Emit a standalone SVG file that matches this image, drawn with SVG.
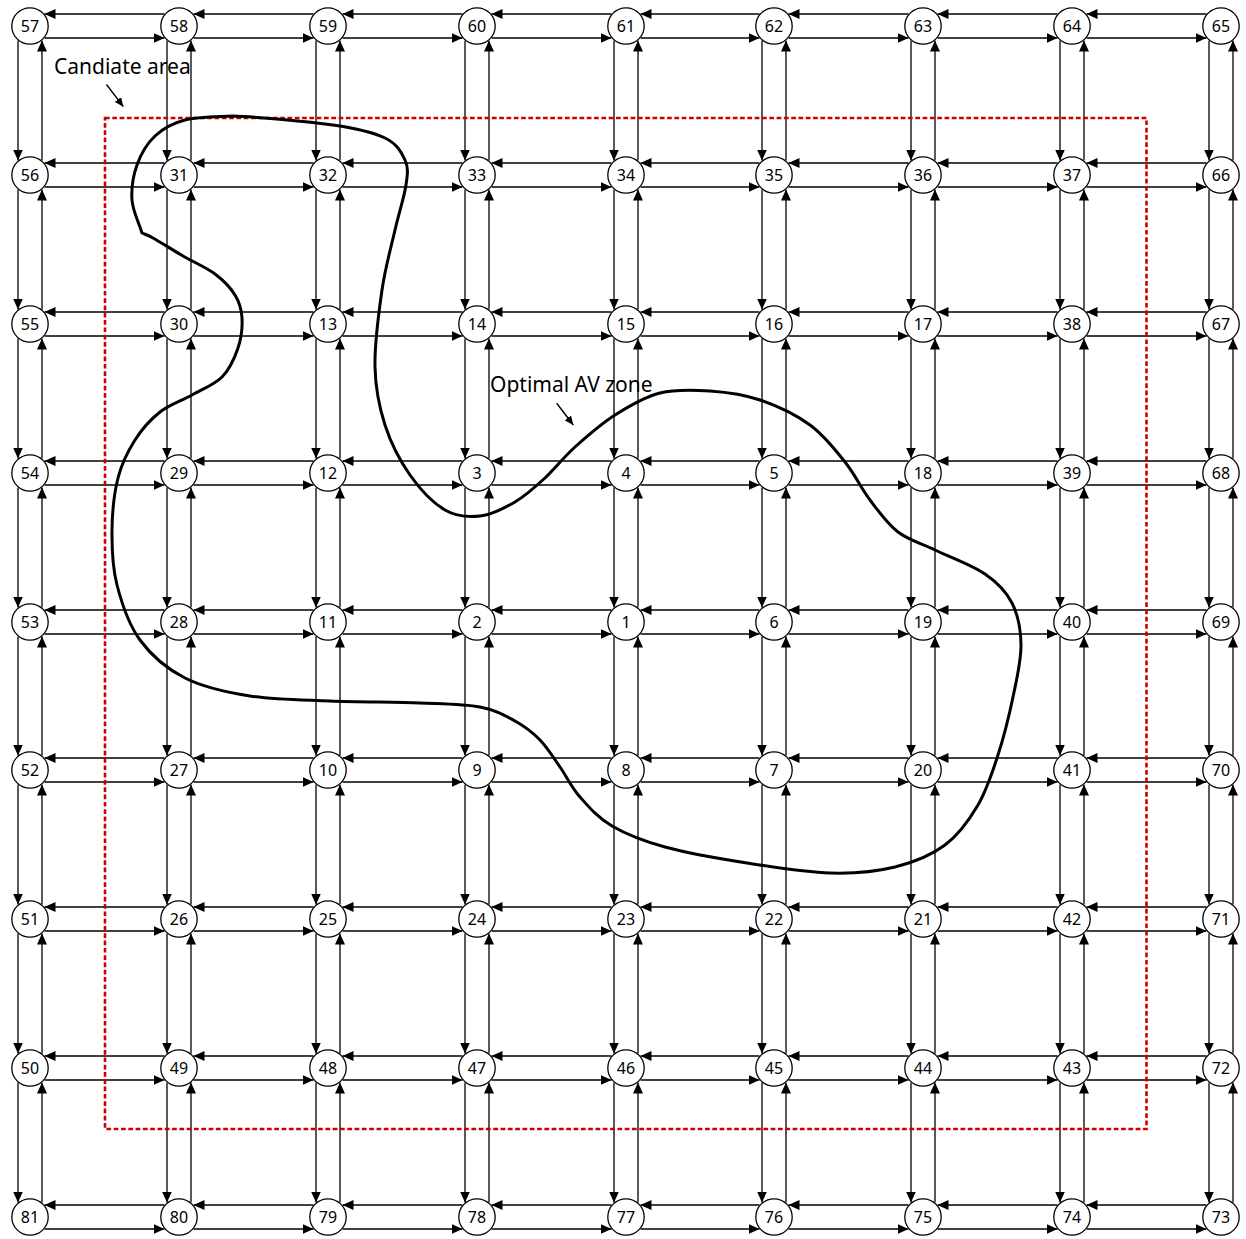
<svg xmlns="http://www.w3.org/2000/svg" width="1246" height="1239" viewBox="0 0 1246 1239">
<defs>
<marker id="a" markerUnits="userSpaceOnUse" markerWidth="11" markerHeight="10" refX="11" refY="5" orient="auto" viewBox="0 0 11 10"><path d="M0,0 L11,5 L0,10 z" fill="#000"/></marker>
<marker id="s" markerUnits="userSpaceOnUse" markerWidth="9" markerHeight="8" refX="9" refY="4" orient="auto" viewBox="0 0 9 8"><path d="M0,0 L9,4 L0,8 z" fill="#000"/></marker>
</defs>
<style>
.e path{stroke:#000;stroke-width:1.3;fill:none;marker-end:url(#a)}
.n circle{fill:#fff;stroke:#000;stroke-width:1.3}
.n text{font-family:"Noto Sans","DejaVu Sans",sans-serif;font-size:16px;text-anchor:middle;fill:#000}
.lbl{font-family:"Noto Sans","DejaVu Sans",sans-serif;font-size:21px;fill:#000}
.pt{stroke:#000;stroke-width:1.4;fill:none;marker-end:url(#s)}
</style>
<rect width="1246" height="1239" fill="#fff"/>
<g id="connectors" class="e">
<path d="M164.5 14H44.5"/><path d="M313.5 14H193.5"/><path d="M462.5 14H342.5"/><path d="M611.5 14H491.5"/><path d="M759.5 14H640.5"/><path d="M908.5 14H788.5"/><path d="M1057.5 14H937.5"/><path d="M1206.5 14H1086.5"/>
<path d="M44.5 38H164.5"/><path d="M193.5 38H313.5"/><path d="M342.5 38H462.5"/><path d="M491.5 38H611.5"/><path d="M640.5 38H759.5"/><path d="M788.5 38H908.5"/><path d="M937.5 38H1057.5"/><path d="M1086.5 38H1206.5"/>
<path d="M164.5 163H44.5"/><path d="M313.5 163H193.5"/><path d="M462.5 163H342.5"/><path d="M611.5 163H491.5"/><path d="M759.5 163H640.5"/><path d="M908.5 163H788.5"/><path d="M1057.5 163H937.5"/><path d="M1206.5 163H1086.5"/>
<path d="M44.5 187H164.5"/><path d="M193.5 187H313.5"/><path d="M342.5 187H462.5"/><path d="M491.5 187H611.5"/><path d="M640.5 187H759.5"/><path d="M788.5 187H908.5"/><path d="M937.5 187H1057.5"/><path d="M1086.5 187H1206.5"/>
<path d="M164.5 312H44.5"/><path d="M313.5 312H193.5"/><path d="M462.5 312H342.5"/><path d="M611.5 312H491.5"/><path d="M759.5 312H640.5"/><path d="M908.5 312H788.5"/><path d="M1057.5 312H937.5"/><path d="M1206.5 312H1086.5"/>
<path d="M44.5 336H164.5"/><path d="M193.5 336H313.5"/><path d="M342.5 336H462.5"/><path d="M491.5 336H611.5"/><path d="M640.5 336H759.5"/><path d="M788.5 336H908.5"/><path d="M937.5 336H1057.5"/><path d="M1086.5 336H1206.5"/>
<path d="M164.5 461H44.5"/><path d="M313.5 461H193.5"/><path d="M462.5 461H342.5"/><path d="M611.5 461H491.5"/><path d="M759.5 461H640.5"/><path d="M908.5 461H788.5"/><path d="M1057.5 461H937.5"/><path d="M1206.5 461H1086.5"/>
<path d="M44.5 485H164.5"/><path d="M193.5 485H313.5"/><path d="M342.5 485H462.5"/><path d="M491.5 485H611.5"/><path d="M640.5 485H759.5"/><path d="M788.5 485H908.5"/><path d="M937.5 485H1057.5"/><path d="M1086.5 485H1206.5"/>
<path d="M164.5 610H44.5"/><path d="M313.5 610H193.5"/><path d="M462.5 610H342.5"/><path d="M611.5 610H491.5"/><path d="M759.5 610H640.5"/><path d="M908.5 610H788.5"/><path d="M1057.5 610H937.5"/><path d="M1206.5 610H1086.5"/>
<path d="M44.5 634H164.5"/><path d="M193.5 634H313.5"/><path d="M342.5 634H462.5"/><path d="M491.5 634H611.5"/><path d="M640.5 634H759.5"/><path d="M788.5 634H908.5"/><path d="M937.5 634H1057.5"/><path d="M1086.5 634H1206.5"/>
<path d="M164.5 758H44.5"/><path d="M313.5 758H193.5"/><path d="M462.5 758H342.5"/><path d="M611.5 758H491.5"/><path d="M759.5 758H640.5"/><path d="M908.5 758H788.5"/><path d="M1057.5 758H937.5"/><path d="M1206.5 758H1086.5"/>
<path d="M44.5 782H164.5"/><path d="M193.5 782H313.5"/><path d="M342.5 782H462.5"/><path d="M491.5 782H611.5"/><path d="M640.5 782H759.5"/><path d="M788.5 782H908.5"/><path d="M937.5 782H1057.5"/><path d="M1086.5 782H1206.5"/>
<path d="M164.5 907H44.5"/><path d="M313.5 907H193.5"/><path d="M462.5 907H342.5"/><path d="M611.5 907H491.5"/><path d="M759.5 907H640.5"/><path d="M908.5 907H788.5"/><path d="M1057.5 907H937.5"/><path d="M1206.5 907H1086.5"/>
<path d="M44.5 931H164.5"/><path d="M193.5 931H313.5"/><path d="M342.5 931H462.5"/><path d="M491.5 931H611.5"/><path d="M640.5 931H759.5"/><path d="M788.5 931H908.5"/><path d="M937.5 931H1057.5"/><path d="M1086.5 931H1206.5"/>
<path d="M164.5 1056H44.5"/><path d="M313.5 1056H193.5"/><path d="M462.5 1056H342.5"/><path d="M611.5 1056H491.5"/><path d="M759.5 1056H640.5"/><path d="M908.5 1056H788.5"/><path d="M1057.5 1056H937.5"/><path d="M1206.5 1056H1086.5"/>
<path d="M44.5 1080H164.5"/><path d="M193.5 1080H313.5"/><path d="M342.5 1080H462.5"/><path d="M491.5 1080H611.5"/><path d="M640.5 1080H759.5"/><path d="M788.5 1080H908.5"/><path d="M937.5 1080H1057.5"/><path d="M1086.5 1080H1206.5"/>
<path d="M164.5 1205H44.5"/><path d="M313.5 1205H193.5"/><path d="M462.5 1205H342.5"/><path d="M611.5 1205H491.5"/><path d="M759.5 1205H640.5"/><path d="M908.5 1205H788.5"/><path d="M1057.5 1205H937.5"/><path d="M1206.5 1205H1086.5"/>
<path d="M44.5 1229H164.5"/><path d="M193.5 1229H313.5"/><path d="M342.5 1229H462.5"/><path d="M491.5 1229H611.5"/><path d="M640.5 1229H759.5"/><path d="M788.5 1229H908.5"/><path d="M937.5 1229H1057.5"/><path d="M1086.5 1229H1206.5"/>
<path d="M18 40.5V160.5"/><path d="M18 189.5V309.5"/><path d="M18 338.5V458.5"/><path d="M18 487.5V607.5"/><path d="M18 636.5V755.5"/><path d="M18 784.5V904.5"/><path d="M18 933.5V1053.5"/><path d="M18 1082.5V1202.5"/>
<path d="M42 160.5V40.5"/><path d="M42 309.5V189.5"/><path d="M42 458.5V338.5"/><path d="M42 607.5V487.5"/><path d="M42 755.5V636.5"/><path d="M42 904.5V784.5"/><path d="M42 1053.5V933.5"/><path d="M42 1202.5V1082.5"/>
<path d="M167 40.5V160.5"/><path d="M167 189.5V309.5"/><path d="M167 338.5V458.5"/><path d="M167 487.5V607.5"/><path d="M167 636.5V755.5"/><path d="M167 784.5V904.5"/><path d="M167 933.5V1053.5"/><path d="M167 1082.5V1202.5"/>
<path d="M191 160.5V40.5"/><path d="M191 309.5V189.5"/><path d="M191 458.5V338.5"/><path d="M191 607.5V487.5"/><path d="M191 755.5V636.5"/><path d="M191 904.5V784.5"/><path d="M191 1053.5V933.5"/><path d="M191 1202.5V1082.5"/>
<path d="M316 40.5V160.5"/><path d="M316 189.5V309.5"/><path d="M316 338.5V458.5"/><path d="M316 487.5V607.5"/><path d="M316 636.5V755.5"/><path d="M316 784.5V904.5"/><path d="M316 933.5V1053.5"/><path d="M316 1082.5V1202.5"/>
<path d="M340 160.5V40.5"/><path d="M340 309.5V189.5"/><path d="M340 458.5V338.5"/><path d="M340 607.5V487.5"/><path d="M340 755.5V636.5"/><path d="M340 904.5V784.5"/><path d="M340 1053.5V933.5"/><path d="M340 1202.5V1082.5"/>
<path d="M465 40.5V160.5"/><path d="M465 189.5V309.5"/><path d="M465 338.5V458.5"/><path d="M465 487.5V607.5"/><path d="M465 636.5V755.5"/><path d="M465 784.5V904.5"/><path d="M465 933.5V1053.5"/><path d="M465 1082.5V1202.5"/>
<path d="M489 160.5V40.5"/><path d="M489 309.5V189.5"/><path d="M489 458.5V338.5"/><path d="M489 607.5V487.5"/><path d="M489 755.5V636.5"/><path d="M489 904.5V784.5"/><path d="M489 1053.5V933.5"/><path d="M489 1202.5V1082.5"/>
<path d="M614 40.5V160.5"/><path d="M614 189.5V309.5"/><path d="M614 338.5V458.5"/><path d="M614 487.5V607.5"/><path d="M614 636.5V755.5"/><path d="M614 784.5V904.5"/><path d="M614 933.5V1053.5"/><path d="M614 1082.5V1202.5"/>
<path d="M638 160.5V40.5"/><path d="M638 309.5V189.5"/><path d="M638 458.5V338.5"/><path d="M638 607.5V487.5"/><path d="M638 755.5V636.5"/><path d="M638 904.5V784.5"/><path d="M638 1053.5V933.5"/><path d="M638 1202.5V1082.5"/>
<path d="M762 40.5V160.5"/><path d="M762 189.5V309.5"/><path d="M762 338.5V458.5"/><path d="M762 487.5V607.5"/><path d="M762 636.5V755.5"/><path d="M762 784.5V904.5"/><path d="M762 933.5V1053.5"/><path d="M762 1082.5V1202.5"/>
<path d="M786 160.5V40.5"/><path d="M786 309.5V189.5"/><path d="M786 458.5V338.5"/><path d="M786 607.5V487.5"/><path d="M786 755.5V636.5"/><path d="M786 904.5V784.5"/><path d="M786 1053.5V933.5"/><path d="M786 1202.5V1082.5"/>
<path d="M911 40.5V160.5"/><path d="M911 189.5V309.5"/><path d="M911 338.5V458.5"/><path d="M911 487.5V607.5"/><path d="M911 636.5V755.5"/><path d="M911 784.5V904.5"/><path d="M911 933.5V1053.5"/><path d="M911 1082.5V1202.5"/>
<path d="M935 160.5V40.5"/><path d="M935 309.5V189.5"/><path d="M935 458.5V338.5"/><path d="M935 607.5V487.5"/><path d="M935 755.5V636.5"/><path d="M935 904.5V784.5"/><path d="M935 1053.5V933.5"/><path d="M935 1202.5V1082.5"/>
<path d="M1060 40.5V160.5"/><path d="M1060 189.5V309.5"/><path d="M1060 338.5V458.5"/><path d="M1060 487.5V607.5"/><path d="M1060 636.5V755.5"/><path d="M1060 784.5V904.5"/><path d="M1060 933.5V1053.5"/><path d="M1060 1082.5V1202.5"/>
<path d="M1084 160.5V40.5"/><path d="M1084 309.5V189.5"/><path d="M1084 458.5V338.5"/><path d="M1084 607.5V487.5"/><path d="M1084 755.5V636.5"/><path d="M1084 904.5V784.5"/><path d="M1084 1053.5V933.5"/><path d="M1084 1202.5V1082.5"/>
<path d="M1209 40.5V160.5"/><path d="M1209 189.5V309.5"/><path d="M1209 338.5V458.5"/><path d="M1209 487.5V607.5"/><path d="M1209 636.5V755.5"/><path d="M1209 784.5V904.5"/><path d="M1209 933.5V1053.5"/><path d="M1209 1082.5V1202.5"/>
<path d="M1233 160.5V40.5"/><path d="M1233 309.5V189.5"/><path d="M1233 458.5V338.5"/><path d="M1233 607.5V487.5"/><path d="M1233 755.5V636.5"/><path d="M1233 904.5V784.5"/><path d="M1233 1053.5V933.5"/><path d="M1233 1202.5V1082.5"/>
</g>
<g class="n">
<g id="n57"><circle cx="30" cy="26" r="18.2"/><text x="30" y="31.7">57</text></g>
<g id="n58"><circle cx="179" cy="26" r="18.2"/><text x="179" y="31.7">58</text></g>
<g id="n59"><circle cx="328" cy="26" r="18.2"/><text x="328" y="31.7">59</text></g>
<g id="n60"><circle cx="477" cy="26" r="18.2"/><text x="477" y="31.7">60</text></g>
<g id="n61"><circle cx="626" cy="26" r="18.2"/><text x="626" y="31.7">61</text></g>
<g id="n62"><circle cx="774" cy="26" r="18.2"/><text x="774" y="31.7">62</text></g>
<g id="n63"><circle cx="923" cy="26" r="18.2"/><text x="923" y="31.7">63</text></g>
<g id="n64"><circle cx="1072" cy="26" r="18.2"/><text x="1072" y="31.7">64</text></g>
<g id="n65"><circle cx="1221" cy="26" r="18.2"/><text x="1221" y="31.7">65</text></g>
<g id="n56"><circle cx="30" cy="175" r="18.2"/><text x="30" y="180.7">56</text></g>
<g id="n31"><circle cx="179" cy="175" r="18.2"/><text x="179" y="180.7">31</text></g>
<g id="n32"><circle cx="328" cy="175" r="18.2"/><text x="328" y="180.7">32</text></g>
<g id="n33"><circle cx="477" cy="175" r="18.2"/><text x="477" y="180.7">33</text></g>
<g id="n34"><circle cx="626" cy="175" r="18.2"/><text x="626" y="180.7">34</text></g>
<g id="n35"><circle cx="774" cy="175" r="18.2"/><text x="774" y="180.7">35</text></g>
<g id="n36"><circle cx="923" cy="175" r="18.2"/><text x="923" y="180.7">36</text></g>
<g id="n37"><circle cx="1072" cy="175" r="18.2"/><text x="1072" y="180.7">37</text></g>
<g id="n66"><circle cx="1221" cy="175" r="18.2"/><text x="1221" y="180.7">66</text></g>
<g id="n55"><circle cx="30" cy="324" r="18.2"/><text x="30" y="329.7">55</text></g>
<g id="n30"><circle cx="179" cy="324" r="18.2"/><text x="179" y="329.7">30</text></g>
<g id="n13"><circle cx="328" cy="324" r="18.2"/><text x="328" y="329.7">13</text></g>
<g id="n14"><circle cx="477" cy="324" r="18.2"/><text x="477" y="329.7">14</text></g>
<g id="n15"><circle cx="626" cy="324" r="18.2"/><text x="626" y="329.7">15</text></g>
<g id="n16"><circle cx="774" cy="324" r="18.2"/><text x="774" y="329.7">16</text></g>
<g id="n17"><circle cx="923" cy="324" r="18.2"/><text x="923" y="329.7">17</text></g>
<g id="n38"><circle cx="1072" cy="324" r="18.2"/><text x="1072" y="329.7">38</text></g>
<g id="n67"><circle cx="1221" cy="324" r="18.2"/><text x="1221" y="329.7">67</text></g>
<g id="n54"><circle cx="30" cy="473" r="18.2"/><text x="30" y="478.7">54</text></g>
<g id="n29"><circle cx="179" cy="473" r="18.2"/><text x="179" y="478.7">29</text></g>
<g id="n12"><circle cx="328" cy="473" r="18.2"/><text x="328" y="478.7">12</text></g>
<g id="n3"><circle cx="477" cy="473" r="18.2"/><text x="477" y="478.7">3</text></g>
<g id="n4"><circle cx="626" cy="473" r="18.2"/><text x="626" y="478.7">4</text></g>
<g id="n5"><circle cx="774" cy="473" r="18.2"/><text x="774" y="478.7">5</text></g>
<g id="n18"><circle cx="923" cy="473" r="18.2"/><text x="923" y="478.7">18</text></g>
<g id="n39"><circle cx="1072" cy="473" r="18.2"/><text x="1072" y="478.7">39</text></g>
<g id="n68"><circle cx="1221" cy="473" r="18.2"/><text x="1221" y="478.7">68</text></g>
<g id="n53"><circle cx="30" cy="622" r="18.2"/><text x="30" y="627.7">53</text></g>
<g id="n28"><circle cx="179" cy="622" r="18.2"/><text x="179" y="627.7">28</text></g>
<g id="n11"><circle cx="328" cy="622" r="18.2"/><text x="328" y="627.7">11</text></g>
<g id="n2"><circle cx="477" cy="622" r="18.2"/><text x="477" y="627.7">2</text></g>
<g id="n1"><circle cx="626" cy="622" r="18.2"/><text x="626" y="627.7">1</text></g>
<g id="n6"><circle cx="774" cy="622" r="18.2"/><text x="774" y="627.7">6</text></g>
<g id="n19"><circle cx="923" cy="622" r="18.2"/><text x="923" y="627.7">19</text></g>
<g id="n40"><circle cx="1072" cy="622" r="18.2"/><text x="1072" y="627.7">40</text></g>
<g id="n69"><circle cx="1221" cy="622" r="18.2"/><text x="1221" y="627.7">69</text></g>
<g id="n52"><circle cx="30" cy="770" r="18.2"/><text x="30" y="775.7">52</text></g>
<g id="n27"><circle cx="179" cy="770" r="18.2"/><text x="179" y="775.7">27</text></g>
<g id="n10"><circle cx="328" cy="770" r="18.2"/><text x="328" y="775.7">10</text></g>
<g id="n9"><circle cx="477" cy="770" r="18.2"/><text x="477" y="775.7">9</text></g>
<g id="n8"><circle cx="626" cy="770" r="18.2"/><text x="626" y="775.7">8</text></g>
<g id="n7"><circle cx="774" cy="770" r="18.2"/><text x="774" y="775.7">7</text></g>
<g id="n20"><circle cx="923" cy="770" r="18.2"/><text x="923" y="775.7">20</text></g>
<g id="n41"><circle cx="1072" cy="770" r="18.2"/><text x="1072" y="775.7">41</text></g>
<g id="n70"><circle cx="1221" cy="770" r="18.2"/><text x="1221" y="775.7">70</text></g>
<g id="n51"><circle cx="30" cy="919" r="18.2"/><text x="30" y="924.7">51</text></g>
<g id="n26"><circle cx="179" cy="919" r="18.2"/><text x="179" y="924.7">26</text></g>
<g id="n25"><circle cx="328" cy="919" r="18.2"/><text x="328" y="924.7">25</text></g>
<g id="n24"><circle cx="477" cy="919" r="18.2"/><text x="477" y="924.7">24</text></g>
<g id="n23"><circle cx="626" cy="919" r="18.2"/><text x="626" y="924.7">23</text></g>
<g id="n22"><circle cx="774" cy="919" r="18.2"/><text x="774" y="924.7">22</text></g>
<g id="n21"><circle cx="923" cy="919" r="18.2"/><text x="923" y="924.7">21</text></g>
<g id="n42"><circle cx="1072" cy="919" r="18.2"/><text x="1072" y="924.7">42</text></g>
<g id="n71"><circle cx="1221" cy="919" r="18.2"/><text x="1221" y="924.7">71</text></g>
<g id="n50"><circle cx="30" cy="1068" r="18.2"/><text x="30" y="1073.7">50</text></g>
<g id="n49"><circle cx="179" cy="1068" r="18.2"/><text x="179" y="1073.7">49</text></g>
<g id="n48"><circle cx="328" cy="1068" r="18.2"/><text x="328" y="1073.7">48</text></g>
<g id="n47"><circle cx="477" cy="1068" r="18.2"/><text x="477" y="1073.7">47</text></g>
<g id="n46"><circle cx="626" cy="1068" r="18.2"/><text x="626" y="1073.7">46</text></g>
<g id="n45"><circle cx="774" cy="1068" r="18.2"/><text x="774" y="1073.7">45</text></g>
<g id="n44"><circle cx="923" cy="1068" r="18.2"/><text x="923" y="1073.7">44</text></g>
<g id="n43"><circle cx="1072" cy="1068" r="18.2"/><text x="1072" y="1073.7">43</text></g>
<g id="n72"><circle cx="1221" cy="1068" r="18.2"/><text x="1221" y="1073.7">72</text></g>
<g id="n81"><circle cx="30" cy="1217" r="18.2"/><text x="30" y="1222.7">81</text></g>
<g id="n80"><circle cx="179" cy="1217" r="18.2"/><text x="179" y="1222.7">80</text></g>
<g id="n79"><circle cx="328" cy="1217" r="18.2"/><text x="328" y="1222.7">79</text></g>
<g id="n78"><circle cx="477" cy="1217" r="18.2"/><text x="477" y="1222.7">78</text></g>
<g id="n77"><circle cx="626" cy="1217" r="18.2"/><text x="626" y="1222.7">77</text></g>
<g id="n76"><circle cx="774" cy="1217" r="18.2"/><text x="774" y="1222.7">76</text></g>
<g id="n75"><circle cx="923" cy="1217" r="18.2"/><text x="923" y="1222.7">75</text></g>
<g id="n74"><circle cx="1072" cy="1217" r="18.2"/><text x="1072" y="1222.7">74</text></g>
<g id="n73"><circle cx="1221" cy="1217" r="18.2"/><text x="1221" y="1222.7">73</text></g>
</g>
<g id="candidate-area">
<rect x="105" y="118" width="1041.5" height="1011" fill="none" stroke="#cc0000" stroke-width="2.6" stroke-dasharray="4.7 2.6"/>
</g>
<g id="optimal-zone">
<path fill="none" stroke="#000" stroke-width="3" stroke-linejoin="round" d="M232,116 C256.7,116.8 307.5,121.3 333,125 C358.5,128.7 373,132.2 385,138 C397,143.8 401.5,152.2 405,160 C408.5,167.8 407.7,173.3 406,185 C404.3,196.7 399,212.5 395,230 C391,247.5 385.3,267.2 382,290 C378.7,312.8 374.5,344.5 375,367 C375.5,389.5 379.2,407 385,425 C390.8,443 400,460.8 410,475 C420,489.2 433.3,503.2 445,510 C456.7,516.8 468.3,517.3 480,516 C491.7,514.7 504.2,508.3 515,502 C525.8,495.7 535,487.2 545,478 C555,468.8 563.3,457.5 575,447 C586.7,436.5 600.8,424 615,415 C629.2,406 644.2,397 660,393 C675.8,389 693.3,389.8 710,391 C726.7,392.2 743.3,394.3 760,400 C776.7,405.7 795.8,414.7 810,425 C824.2,435.3 835,449.5 845,462 C855,474.5 861.2,488.3 870,500 C878.8,511.7 887.2,523.7 898,532 C908.8,540.3 920.5,543 935,550 C949.5,557 972.2,565.2 985,574 C997.8,582.8 1006,591.2 1012,603 C1018,614.8 1020.8,629.3 1021,645 C1021.2,660.7 1016.8,678.7 1013,697 C1009.2,715.3 1003.8,737 998,755 C992.2,773 986.8,790 978,805 C969.2,820 958.8,834.7 945,845 C931.2,855.3 914.2,862.3 895,867 C875.8,871.7 854.7,873.7 830,873 C805.3,872.3 774.5,867.3 747,863 C719.5,858.7 687.5,853.2 665,847 C642.5,840.8 626.2,834.3 612,826 C597.8,817.7 588.7,806.8 580,797 C571.3,787.2 566.7,776.5 560,767 C553.3,757.5 547.5,747.7 540,740 C532.5,732.3 525,726.5 515,721 C505,715.5 495.8,710 480,707 C464.2,704 445,704 420,703 C395,702 358.3,702.2 330,701 C301.7,699.8 274.2,699.8 250,696 C225.8,692.2 203.3,687.3 185,678 C166.7,668.7 151.3,655.5 140,640 C128.7,624.5 121.7,603.3 117,585 C112.3,566.7 111.8,547.8 112,530 C112.2,512.2 114.2,493 118,478 C121.8,463 128,451 135,440 C142,429 150.5,419.5 160,412 C169.5,404.5 181.7,400.8 192,395 C202.3,389.2 214.3,384.8 222,377 C229.7,369.2 234.7,357.8 238,348 C241.3,338.2 242.5,326.8 242,318 C241.5,309.2 239.5,302.3 235,295 C230.5,287.7 223.7,280.5 215,274 C206.3,267.5 193.3,262 183,256 C172.7,250 159.8,241.8 153,238 C146.2,234.2 145.7,234.7 142,233 C138.7,222 132.8,211.3 132,200 C131.2,188.7 133.2,175.7 137,165 C140.8,154.3 147,143.5 155,136 C163,128.5 172.2,123.3 185,120 C197.8,116.7 219.2,116.8 232,116 Z"/>
</g>
<g id="labels">
<text class="lbl" x="54" y="74">Candiate area</text>
<path class="pt" d="M106.5 84.5L123.3 106.7"/>
<text class="lbl" x="490" y="392">Optimal AV zone</text>
<path class="pt" d="M556.7 403.3L573.3 425"/>
</g>
</svg>
